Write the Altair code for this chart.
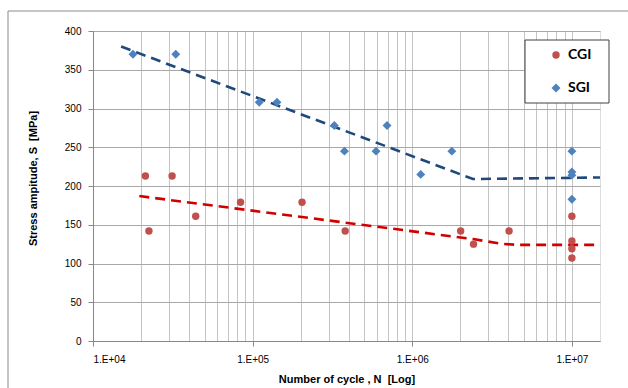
import altair as alt
import pandas as pd

# Fatigue test results: cycles to failure N and stress amplitude S [MPa]
cgi_cycles = [2.13e4, 2.24e4, 3.13e4, 4.4e4, 8.4e4, 2.04e5, 3.8e5, 2.01e6, 2.42e6, 4.04e6, 1e7, 1e7, 1e7, 1e7]
cgi_stress = [213, 142, 213, 161, 179, 179, 142, 142, 125, 142, 161, 129, 119, 107]

sgi_cycles = [1.78e4, 3.3e4, 1.1e5, 1.42e5, 3.25e5, 3.76e5, 5.93e5, 6.95e5, 1.13e6, 1.77e6, 1e7, 1e7, 1e7, 1e7]
sgi_stress = [370, 370, 308, 308, 278, 245, 245, 278, 215, 245, 245, 218, 214, 183]

# Fitted S-N curves: sloped branch, knee and endurance plateau
cgi_fit_cycles = [1.95e4, 2.4e6, 3.6e6, 4.6e6, 1.5e7]
cgi_fit_stress = [187, 131.5, 125.5, 124, 124]
sgi_fit_cycles = [1.5e4, 2.4e6, 1.5e7]
sgi_fit_stress = [380, 209, 211]

series = ["CGI", "SGI"]
point_colors = ["#C0504D", "#4F81BD"]
point_shapes = ["circle", "diamond"]
point_sizes = [55, 80]

y_ticks = [0, 50, 100, 150, 200, 250, 300, 350, 400]
x_grid = [k * 10 ** e for e in (4, 5, 6) for k in range(1, 10)] + [1e7]

points = pd.concat([
    pd.DataFrame({"N": cgi_cycles, "S": cgi_stress, "Material": "CGI"}),
    pd.DataFrame({"N": sgi_cycles, "S": sgi_stress, "Material": "SGI"}),
])
cgi_fit = pd.DataFrame({"N": cgi_fit_cycles, "S": cgi_fit_stress})
sgi_fit = pd.DataFrame({"N": sgi_fit_cycles, "S": sgi_fit_stress})

FONT = "Lato"
NBSP = "\u00a0"
is_decade = "abs(log(datum.value)/LN10 - round(log(datum.value)/LN10)) < 0.001"

x_scale = alt.Scale(type="log", domain=[1e4, 1.5e7], nice=False)
y_scale = alt.Scale(domain=[0, 400], nice=False)

x_enc = alt.X(
    "N:Q", scale=x_scale,
    axis=alt.Axis(
        title=f"Number of cycle , N {NBSP}[Log]",
        values=x_grid,
        labelExpr=f"{is_decade} ? '1.E+0' + round(log(datum.value)/LN10) : ''",
        tickOpacity={"condition": {"test": is_decade, "value": 1}, "value": 0},
        gridColor="#C4C4C4",
        labelPadding=8,
        titleY=38, titleBaseline="middle",
    ),
)
y_enc = alt.Y(
    "S:Q", scale=y_scale,
    axis=alt.Axis(
        title=f"Stress ampitude, S {NBSP}[MPa]",
        values=y_ticks,
        gridColor="#A8A8A8",
        labelPadding=7,
        titleX=-60, titleY=147, titleBaseline="middle", titleAlign="center",
    ),
)

one_row = pd.DataFrame({"k": [0]})

# Chart-area border running off the right and bottom edges
frame = alt.Chart(one_row).mark_rect(fill=None, stroke="#8C8C8C", strokeWidth=1).encode(
    x=alt.value(-85), x2=alt.value(560), y=alt.value(-20), y2=alt.value(380)
)

# Legend box
legend_box = alt.Chart(one_row).mark_rect(fill="white", stroke="#404040", strokeWidth=1).encode(
    x=alt.value(432), x2=alt.value(516), y=alt.value(9), y2=alt.value(72)
)

cgi_line = alt.Chart(cgi_fit).mark_line(
    color="#D00000", strokeWidth=2.6, strokeDash=[10, 6]
).encode(x=x_enc, y=y_enc)

sgi_line = alt.Chart(sgi_fit).mark_line(
    color="#1F497D", strokeWidth=2.6, strokeDash=[10, 6]
).encode(x=x_enc, y=y_enc)

pts = alt.Chart(points).mark_point(filled=True, opacity=1).encode(
    x=x_enc,
    y=y_enc,
    color=alt.Color(
        "Material:N",
        scale=alt.Scale(domain=series, range=point_colors),
        legend=alt.Legend(
            title=None, orient="none", legendX=456, legendY=17,
            labelFont=FONT, labelFontSize=14, labelFontWeight="bold", labelColor="#000000",
            symbolSize=55, symbolStrokeWidth=0, rowPadding=19, labelOffset=5, padding=0,
        ),
    ),
    shape=alt.Shape("Material:N", scale=alt.Scale(domain=series, range=point_shapes)),
    size=alt.Size("Material:N", scale=alt.Scale(domain=series, range=point_sizes), legend=None),
)

chart = alt.layer(frame, legend_box, cgi_line, sgi_line, pts).properties(
    width=507, height=310,
    padding={"left": 93, "top": 31, "right": 28, "bottom": 47},
    autosize=alt.AutoSizeParams(type="none"),
).configure_axis(
    labelFont=FONT, labelFontSize=12, labelColor="#404040",
    titleFont=FONT, titleFontSize=12, titleFontWeight="bold", titleColor="#000000",
    domainColor="#868686", tickColor="#868686", tickSize=5,
    gridWidth=1,
).configure_view(
    stroke="#C4C4C4"
).configure(background="white")

chart.save("out.html", embed_options={"renderer": "svg", "actions": False})
